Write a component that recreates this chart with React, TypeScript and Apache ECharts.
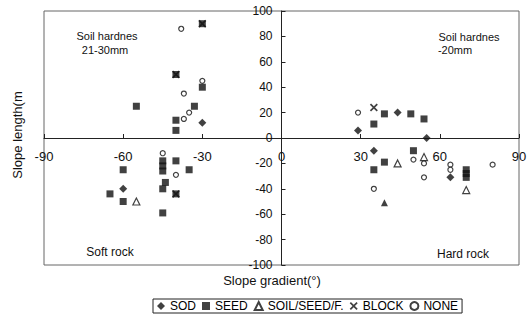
import React, { useEffect, useRef } from "react";
import * as echarts from "echarts";

const xTicks = [-90, -60, -30, 0, 30, 60, 90];
const seriesNames = ["SOD", "SEED", "SOIL/SEED/F.", "BLOCK", "NONE"];

const sodData = [
  [-30, 12], [-60, -40], [29, 6], [44, 20], [55, 0], [35, -10], [64, -31],
];
const seedData = [
  [-55, 25], [-33, 25], [-40, 14], [-40, 6], [-30, 40], [-30, 90], [-40, 50],
  [-45, -18], [-45, -22], [-45, -26], [-40, -18], [-60, -25], [-35, -25],
  [-44, -35], [-45, -40], [-65, -44], [-40, -44], [-60, -50], [-45, -59],
  [35, 11], [39, 19], [49, 19], [54, 15], [35, -25], [39, -19], [50, -10],
  [70, -25], [70, -28], [70, -31],
];
const soilData = [
  [-55, -50], [44, -20], [54, -15], [70, -41],
];
const soilFilledData = [[39, -51]];
const blockData = [
  [-30, 90], [-40, 50], [-40, -44], [35, 24],
];
const noneData = [
  [-38, 86], [-30, 45], [-37, 35], [-35, 20], [-37, 15], [-45, -12], [-40, -29],
  [29, 20], [35, -40], [50, -17], [54, -20], [54, -31], [64, -21], [64, -25], [80, -21],
];

const XPATH = "path://M0,1.5L1.5,0L5,3.5L8.5,0L10,1.5L6.5,5L10,8.5L8.5,10L5,6.5L1.5,10L0,8.5L3.5,5Z";
const FONT = "Liberation Sans, Arial, sans-serif";

const GRID_L = 44, GRID_R = 12, GRID_T = 11, GRID_B = 60;
const W = 531, H = 325;
const plotW = W - GRID_L - GRID_R;
const plotH = H - GRID_T - GRID_B;

export default function App() {
  const ref = useRef<HTMLDivElement>(null);
  useEffect(() => {
    if (!ref.current) return;
    const chart = echarts.init(ref.current, undefined, { renderer: "svg" });
    const hollow = { color: "#fff", borderColor: "#111", borderWidth: 1.2 };
    const txt = (text: string, x: number, y: number, size: number) => ({
      type: "text", x, y,
      style: { text, font: `${size}px ${FONT}`, fill: "#111", textAlign: "center", textVerticalAlign: "middle" },
    });
    chart.setOption({
      animation: false,
      backgroundColor: "#fff",
      textStyle: { fontFamily: FONT },
      grid: {
        left: GRID_L, right: GRID_R, top: GRID_T, bottom: GRID_B,
        show: true, borderColor: "#666", borderWidth: 1, backgroundColor: "transparent",
      },
      xAxis: {
        type: "value", min: -90, max: 90, interval: 30,
        position: "bottom", offset: -plotH / 2,
        axisLine: { onZero: false, lineStyle: { color: "#222", width: 1 } },
        axisTick: { show: true, inside: true, length: 4, lineStyle: { color: "#222" } },
        axisLabel: {
          color: "#111", fontSize: 13, margin: 12, fontFamily: FONT,
          showMinLabel: true, showMaxLabel: true,
          formatter: (v: number) => (xTicks.includes(v) ? String(v) : ""),
        },
        splitLine: { show: false },
      },
      yAxis: {
        type: "value", min: -100, max: 100, interval: 20,
        position: "left", offset: -plotW / 2,
        axisLine: { onZero: false, lineStyle: { color: "#222", width: 1 } },
        axisTick: { show: true, inside: true, length: 4, lineStyle: { color: "#222" } },
        axisLabel: { color: "#111", fontSize: 12, margin: 9, fontFamily: FONT,
          showMinLabel: true, showMaxLabel: true },
        splitLine: { show: false },
      },
      legend: {
        data: seriesNames,
        left: 153, top: 299,
        orient: "horizontal",
        itemWidth: 8, itemHeight: 8, itemGap: 6,
        padding: [1, 4],
        borderColor: "#222", borderWidth: 1,
        textStyle: { fontSize: 12, color: "#000", fontFamily: FONT },
      },
      graphic: [
        { ...txt("Slope length(m", 17, 135, 13), rotation: Math.PI / 2 },
        txt("Slope gradient(°)", 272, 280, 13),
        txt("Soil hardnes", 107, 36, 11),
        txt("21-30mm", 105, 50, 11),
        txt("Soil hardnes", 469, 37, 11),
        txt("-20mm", 455, 50, 11),
        txt("Soft rock", 110, 252, 12),
        txt("Hard rock", 463, 254, 12),
      ],
      series: [
        { name: "SOD", type: "scatter", symbol: "diamond", symbolSize: 8, data: sodData,
          itemStyle: { color: "#111" } },
        { name: "SEED", type: "scatter", symbol: "rect", symbolSize: 7, data: seedData,
          itemStyle: { color: "#111" } },
        { name: "SOIL/SEED/F.", type: "scatter", symbol: "triangle", symbolSize: 7, data: soilData,
          itemStyle: hollow },
        { name: "SOIL/SEED/F.", type: "scatter", symbol: "triangle", symbolSize: 7, data: soilFilledData,
          itemStyle: { color: "#111" } },
        { name: "BLOCK", type: "scatter", symbol: XPATH, symbolSize: 8, data: blockData,
          itemStyle: { color: "#111" } },
        { name: "NONE", type: "scatter", symbol: "circle", symbolSize: 5, data: noneData,
          itemStyle: hollow },
      ],
    });
    return () => chart.dispose();
  }, []);
  return <div ref={ref} style={{ width: W, height: H, position: "absolute", left: 0, top: 0 }} />;
}
